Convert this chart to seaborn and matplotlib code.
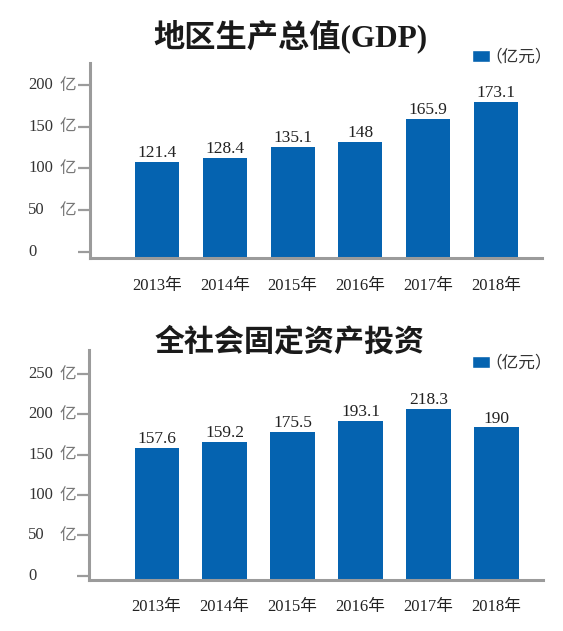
import numpy as np
import matplotlib
matplotlib.use("Agg")
import matplotlib.pyplot as plt
import seaborn as sn
from matplotlib.patches import Patch
from matplotlib.transforms import blended_transform_factory

# datos
years = ["2013年", "2014年", "2015年", "2016年", "2017年", "2018年"]

gdp_title = "地区生产总值(GDP)"
gdp_values = [121.4, 128.4, 135.1, 148, 165.9, 173.1]
# alturas de barra tal como estan dibujadas en el grafico original
gdp_bars = [108.2, 113.0, 126.2, 131.9, 159.5, 180.3]
gdp_ticks = [0, 50, 100, 150, 200]

inv_title = "全社会固定资产投资"
inv_values = [157.6, 159.2, 175.5, 193.1, 218.3, 190]
inv_bars = [158.4, 165.9, 178.3, 192.3, 206.8, 184.1]
inv_ticks = [0, 50, 100, 150, 200, 250]

unit = "（亿元）"
azul = "#0563b0"
gris = "#9b9b9b"

W, H = 563, 631

sn.set_style("white")
plt.rcParams["font.family"] = ["Liberation Serif", "Noto Sans CJK SC", "DejaVu Sans"]

fig = plt.figure(figsize=(W / 100, H / 100), dpi=100)


def panel(rect, title, title_y, title_size, values, bars, ticks, ylim, leg_y):
    ax = fig.add_axes(rect)
    base = ylim[0]
    sn.barplot(x=years, y=np.array(bars) - base, bottom=base, color=azul,
               width=0.65, errorbar=None, saturation=1, linewidth=0, ax=ax)
    ax.set_xlim(-0.99, 5.68)
    ax.set_ylim(ylim)
    ax.set_xlabel("")
    ax.set_ylabel("")

    sn.despine(ax=ax)
    for s in ["left", "bottom"]:
        ax.spines[s].set_color(gris)
        ax.spines[s].set_linewidth(2.2)

    ax.set_yticks(ticks)
    ax.tick_params(axis="y", left=True, direction="out", length=8.6, width=1.6,
                   color=gris, labelleft=False)
    ax.tick_params(axis="x", bottom=False, length=0, pad=14, labelsize=12,
                   labelcolor="#222222")

    # etiquetas del eje y: numero y "亿" por separado
    trans = blended_transform_factory(fig.transFigure, ax.transData)
    for t in ticks:
        ax.text(28 / W, t, str(t), transform=trans, ha="left", va="center",
                fontsize=12, color="#333333")
        if t > 0:
            ax.text(59 / W, t, "亿", transform=trans, ha="left", va="center",
                    fontsize=12, color="#777777", family="Noto Sans CJK SC",
                    fontweight="light")

    ax.bar_label(ax.containers[0], labels=[f"{v:g}" for v in values],
                 padding=0.5, fontsize=12.5, color="#222222")

    ax.legend(handles=[Patch(facecolor=azul)], labels=[unit], loc="center right",
              bbox_to_anchor=(552 / W, 1 - leg_y / H), bbox_transform=fig.transFigure,
              frameon=False, handlelength=1.05, handleheight=0.75, handletextpad=-0.25,
              borderpad=0, borderaxespad=0,
              prop={"family": "Noto Sans CJK SC", "size": 12})
    for txt in ax.get_legend().get_texts():
        txt.set_color("#333333")

    fig.text(290 / W, 1 - title_y / H, title, ha="center", va="center",
             fontsize=title_size, fontweight="bold", color="#1a1a1a")
    return ax


panel([90 / W, 1 - 258.3 / H, 452 / W, 195 / H], gdp_title, 36, 22.5,
      gdp_values, gdp_bars, gdp_ticks, (-7.9, 226.4), 57)
panel([89.3 / W, 1 - 580 / H, 453.4 / W, 230 / H], inv_title, 342, 21.6,
      inv_values, inv_bars, inv_ticks, (-5.3, 280), 363)

fig.savefig("out.png", dpi=100)
